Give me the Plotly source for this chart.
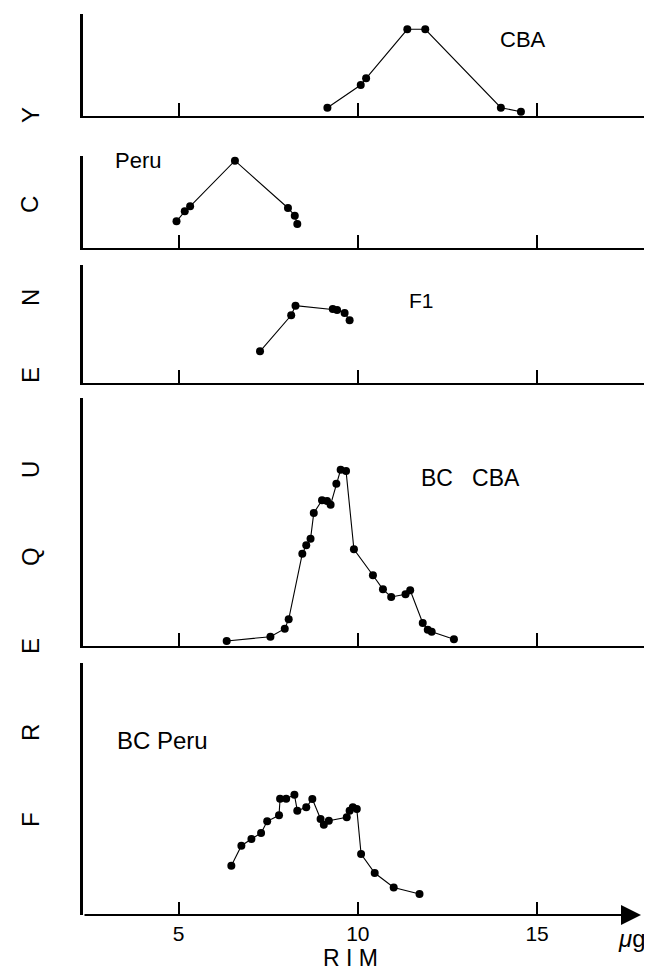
import plotly.graph_objects as go

# ---- data (RIM in µg vs. frequency, arbitrary units) ----
cba_x = [9.15, 10.08, 10.23, 11.38, 11.88, 13.99, 14.55]
cba_y = [8.3, 31.0, 37.7, 86.7, 86.7, 8.3, 4.3]

peru_x = [4.94, 5.17, 5.32, 6.57, 8.05, 8.24, 8.31]
peru_y = [26.7, 36.7, 41.7, 87.3, 40.0, 32.3, 24.0]

f1_x = [7.27, 8.14, 8.26, 9.30, 9.42, 9.63, 9.77]
f1_y = [31.7, 67.7, 77.3, 74.0, 73.0, 70.0, 62.7]

bccba_x = [6.34, 7.56, 7.96, 8.07, 8.45, 8.56, 8.68, 8.77, 9.00, 9.14, 9.24, 9.40,
           9.52, 9.67, 9.89, 10.42, 10.70, 10.93, 11.33, 11.46, 11.81, 11.95, 12.06, 12.68]
bccba_y = [5.0, 9.3, 17.3, 26.7, 92.3, 100.7, 107.3, 133.0, 145.7, 145.0, 141.3, 162.3,
           176.3, 175.0, 96.7, 70.7, 56.7, 49.0, 51.7, 55.7, 23.0, 16.3, 14.3, 6.7]

bcperu_x = [6.47, 6.75, 7.03, 7.30, 7.47, 7.80, 7.83, 8.00, 8.23, 8.31, 8.56, 8.73,
            8.96, 9.05, 9.19, 9.69, 9.77, 9.86, 9.97, 10.09, 10.47, 11.00, 11.72]
bcperu_y = [49.3, 69.3, 76.0, 82.0, 93.7, 99.7, 116.3, 116.3, 120.3, 104.3, 107.7, 116.0,
            96.0, 90.3, 94.3, 97.7, 104.3, 107.7, 106.0, 61.0, 42.0, 27.5, 21.0]

panel_names = ["CBA", "Peru", "F1", "BC  CBA", "BC Peru"]
series = [(cba_x, cba_y), (peru_x, peru_y), (f1_x, f1_y), (bccba_x, bccba_y), (bcperu_x, bcperu_y)]
y_tops = [102, 92, 118, 248, 252]
x_ticks = [5, 10, 15]
x_tick_labels = ["5", "10", "15"]
ylabel_letters = ["F", "R", "E", "Q", "U", "E", "N", "C", "Y"]

W, H = 652, 970
FONT = "Liberation Sans, Arial, sans-serif"

# panel pixel extents (top, bottom)
panels_px = [(6, 108), (148, 240), (257, 375), (390, 638), (655, 907)]
x_range = [2.331, 18.43]

fig = go.Figure()
for i, (xs, ys) in enumerate(series):
    n = i + 1
    fig.add_trace(go.Scatter(
        x=xs, y=ys, mode="lines+markers",
        line=dict(color="black", width=1.1),
        marker=dict(color="black", size=8),
        xaxis=f"x{n}", yaxis=f"y{n}", showlegend=False, cliponaxis=False,
    ))
    top, bot = panels_px[i]
    ydom = [1 - bot / H, 1 - top / H]
    last = (n == 5)
    fig.layout[f"xaxis{n}"] = dict(
        domain=[75 / W, 1.0], range=x_range, anchor=f"y{n}",
        showline=not last, linecolor="black", linewidth=2,
        ticks="inside", ticklen=13, tickwidth=2, tickcolor="black",
        tickvals=x_ticks, ticktext=x_tick_labels,
        showticklabels=last, showgrid=False, zeroline=False,
        tickfont=dict(family=FONT, size=21, color="black"),
        ticklabelstandoff=4,
    )
    fig.layout[f"yaxis{n}"] = dict(
        domain=ydom, range=[0, y_tops[i]], anchor=f"x{n}",
        showline=True, linecolor="black", linewidth=2.5,
        ticks="", showticklabels=False, showgrid=False, zeroline=False,
    )

annotations = []
# panel labels
label_pos = [(515, 32, 22), (130, 152, 22), (413, 292, 21), (462, 470, 23), (154, 732, 24)]
for name, (px, py, fs) in zip(panel_names, label_pos):
    annotations.append(dict(
        text=name.replace("  ", "&nbsp;&nbsp;&nbsp;"), x=px / W, y=1 - py / H,
        xref="paper", yref="paper", showarrow=False,
        xanchor="center", yanchor="middle",
        font=dict(family=FONT, size=fs, color="black"),
    ))

# vertical FREQUENCY letters
letter_y = [812, 725, 638, 549, 462, 367, 290, 197, 107]
for ch, py in zip(ylabel_letters, letter_y):
    annotations.append(dict(
        text=ch, x=22 / W, y=1 - py / H, xref="paper", yref="paper",
        showarrow=False, textangle=-90, xanchor="center", yanchor="middle",
        font=dict(family=FONT, size=24, color="black"),
    ))

# x axis title and unit
annotations.append(dict(
    text="R I M", x=342 / W, y=1 - 950 / H, xref="paper", yref="paper",
    showarrow=False, xanchor="center", yanchor="middle",
    font=dict(family=FONT, size=23, color="black"),
))
annotations.append(dict(
    text="<i>μ</i>g", x=624 / W, y=1 - 930 / H, xref="paper", yref="paper",
    showarrow=False, xanchor="center", yanchor="middle",
    font=dict(family=FONT, size=24, color="black"),
))

# bottom axis with arrow
annotations.append(dict(
    x=17.9, y=0, xref="x5", yref="y5",
    ax=x_range[0], ay=0, axref="x5", ayref="y5",
    showarrow=True, arrowhead=2, arrowsize=2.0, arrowwidth=2,
    arrowcolor="black", text="", standoff=0, startstandoff=0,
))

fig.update_layout(
    width=W, height=H,
    margin=dict(l=0, r=0, t=0, b=0),
    paper_bgcolor="white", plot_bgcolor="white",
    annotations=annotations,
)

fig.write_html("out.html")
